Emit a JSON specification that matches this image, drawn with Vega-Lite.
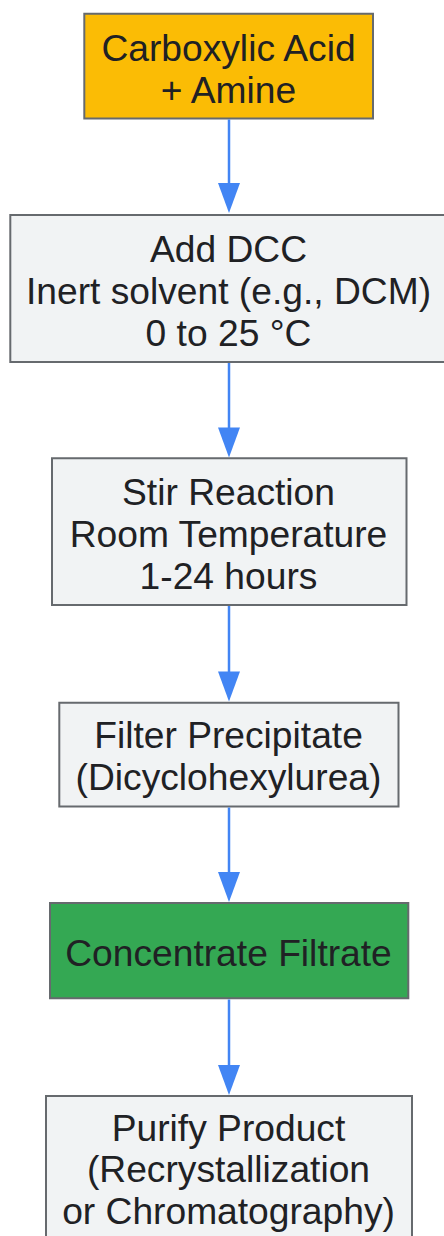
{
  "$schema": "https://vega.github.io/schema/vega-lite/v6.json",
  "width": 444,
  "height": 1236,
  "autosize": "none",
  "padding": 0,
  "background": "white",
  "config": {"view": {"stroke": null}},
  "datasets": {
    "boxes": [
      {"id": 1, "kind": "start", "left": 84.3, "right": 373, "top": 13.7, "bottom": 118.5},
      {"id": 2, "kind": "step", "left": 10.3, "right": 450, "top": 215, "bottom": 362},
      {"id": 3, "kind": "step", "left": 52, "right": 406.5, "top": 458.3, "bottom": 605},
      {"id": 4, "kind": "step", "left": 59.3, "right": 398.5, "top": 702.7, "bottom": 806.5},
      {"id": 5, "kind": "mid", "left": 50, "right": 408.3, "top": 903, "bottom": 998.3},
      {"id": 6, "kind": "step", "left": 46, "right": 412, "top": 1096, "bottom": 1250}
    ],
    "lines": [
      {"box": 1, "label": "Carboxylic Acid", "base": 60.5},
      {"box": 1, "label": "+ Amine", "base": 102.5},
      {"box": 2, "label": "Add DCC", "base": 261.7},
      {"box": 2, "label": "Inert solvent (e.g., DCM)", "base": 303.5},
      {"box": 2, "label": "0 to 25 °C", "base": 345.5},
      {"box": 3, "label": "Stir Reaction", "base": 505},
      {"box": 3, "label": "Room Temperature", "base": 547},
      {"box": 3, "label": "1-24 hours", "base": 589.3},
      {"box": 4, "label": "Filter Precipitate", "base": 748.3},
      {"box": 4, "label": "(Dicyclohexylurea)", "base": 789.8},
      {"box": 5, "label": "Concentrate Filtrate", "base": 965.5},
      {"box": 6, "label": "Purify Product", "base": 1140.5},
      {"box": 6, "label": "(Recrystallization", "base": 1182},
      {"box": 6, "label": "or Chromatography)", "base": 1223.5}
    ],
    "arrows": [
      {"from": 1, "start": 119.5, "tip": 213, "mid": 198},
      {"from": 2, "start": 363, "tip": 457.5, "mid": 442.5},
      {"from": 3, "start": 606, "tip": 701.5, "mid": 686.5},
      {"from": 4, "start": 807.5, "tip": 902, "mid": 887},
      {"from": 5, "start": 999.5, "tip": 1095, "mid": 1080}
    ]
  },
  "layer": [
    {
      "data": {"name": "boxes"},
      "mark": {"type": "rect", "stroke": "#666a6e", "strokeWidth": 2},
      "encoding": {
        "x": {"field": "left", "type": "quantitative", "scale": {"domain": [0, 444], "nice": false, "zero": false}, "axis": null},
        "x2": {"field": "right"},
        "y": {"field": "top", "type": "quantitative", "scale": {"domain": [0, 1236], "nice": false, "zero": false, "reverse": true}, "axis": null},
        "y2": {"field": "bottom"},
        "fill": {"field": "kind", "type": "nominal", "scale": {"domain": ["start", "step", "mid"], "range": ["#FBBC05", "#F1F3F4", "#34A853"]}, "legend": null}
      }
    },
    {
      "data": {"name": "arrows"},
      "mark": {"type": "rule", "color": "#4285F4", "strokeWidth": 2.5},
      "encoding": {
        "x": {"datum": 229, "type": "quantitative"},
        "y": {"field": "start", "type": "quantitative"},
        "y2": {"field": "mid"}
      }
    },
    {
      "data": {"name": "arrows"},
      "mark": {"type": "point", "shape": "M-0.733,-1L0.733,-1L0,1Z", "filled": true, "color": "#4285F4", "opacity": 1, "size": 900, "strokeWidth": 0},
      "encoding": {
        "x": {"datum": 229, "type": "quantitative"},
        "y": {"field": "mid", "type": "quantitative"}
      }
    },
    {
      "data": {"name": "lines"},
      "mark": {"type": "text", "font": "Liberation Sans", "fontSize": 37.2, "color": "#202124", "align": "center", "baseline": "alphabetic"},
      "encoding": {
        "x": {"datum": 228.5, "type": "quantitative"},
        "y": {"field": "base", "type": "quantitative"},
        "text": {"field": "label"}
      }
    }
  ]
}
